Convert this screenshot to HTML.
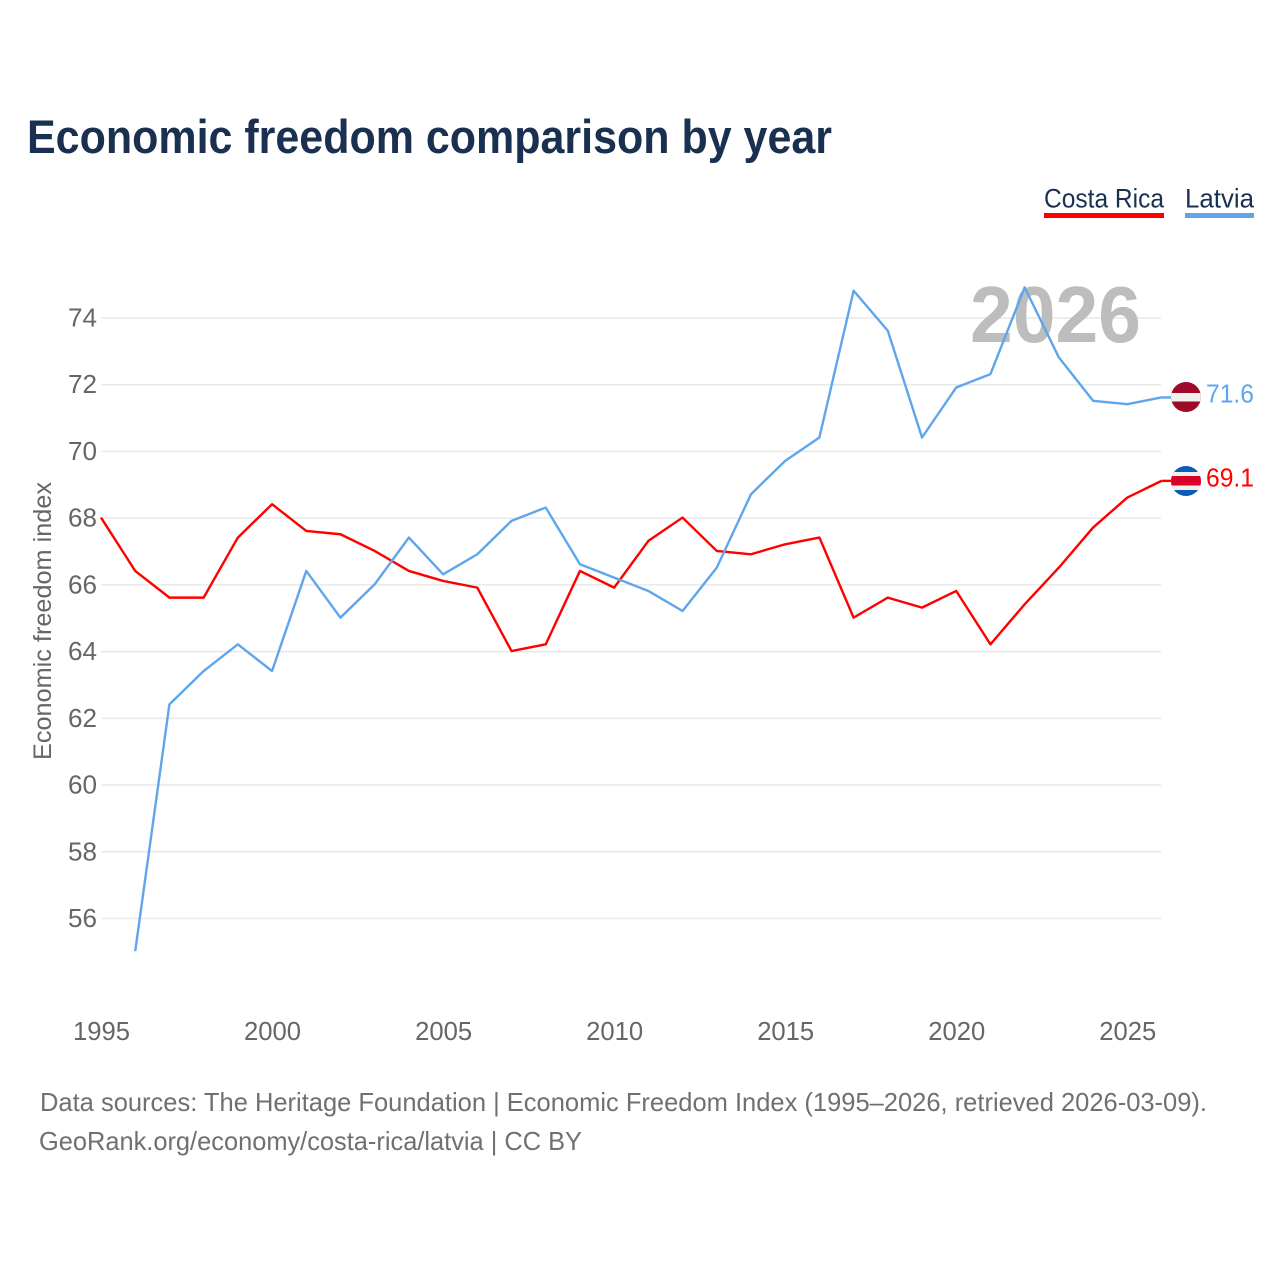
<!DOCTYPE html>
<html lang="en">
<head>
<meta charset="utf-8">
<title>Economic freedom comparison by year</title>
<style>
html,body{margin:0;padding:0;background:#fff;}
svg{display:block;font-family:"Liberation Sans",Arial,sans-serif;}
</style>
</head>
<body>
<svg id="chart" width="1280" height="1280" viewBox="0 0 1280 1280" xmlns="http://www.w3.org/2000/svg">
  <defs>
    <clipPath id="clip-lv"><circle cx="1186" cy="397" r="15"/></clipPath>
    <clipPath id="clip-cr"><circle cx="1186" cy="481" r="15"/></clipPath>
  </defs>
  <rect width="1280" height="1280" fill="#fff"/>
  <text x="27" y="153" font-size="47" font-weight="700" fill="#1a3050" textLength="805" lengthAdjust="spacingAndGlyphs">Economic freedom comparison by year</text>

  <g>
    <text x="1044" y="207.5" font-size="27" fill="#1a3050" textLength="120" lengthAdjust="spacingAndGlyphs">Costa Rica</text>
    <rect x="1044" y="213" width="120" height="5" fill="#ff0000"/>
  </g>
  <g>
    <text x="1185" y="207.5" font-size="27" fill="#1a3050" textLength="69" lengthAdjust="spacingAndGlyphs">Latvia</text>
    <rect x="1185" y="213" width="69" height="5" fill="#5fa5ec"/>
  </g>

  <text transform="translate(51,621) rotate(-90)" text-anchor="middle" font-size="25" fill="#666" textLength="278" lengthAdjust="spacingAndGlyphs">Economic freedom index</text>

  <g id="grid"></g>
  <g id="y-ticks"></g>
  <g id="x-ticks"></g>

  <text id="year-label" x="1141" y="342" text-anchor="end" font-size="80" font-weight="700" fill="#bdbdbd" textLength="171" lengthAdjust="spacingAndGlyphs"></text>

  <g id="series"></g>
  <g id="ends"></g>

  <text x="40" y="1111" font-size="26" fill="#707070" textLength="1167" lengthAdjust="spacingAndGlyphs">Data sources: The Heritage Foundation | Economic Freedom Index (1995–2026, retrieved 2026-03-09).</text>
  <text x="39" y="1150" font-size="26" fill="#707070" textLength="543" lengthAdjust="spacingAndGlyphs">GeoRank.org/economy/costa-rica/latvia | CC BY</text>
</svg>

<script>
const years = [1995,1996,1997,1998,1999,2000,2001,2002,2003,2004,2005,2006,2007,2008,2009,2010,2011,2012,2013,2014,2015,2016,2017,2018,2019,2020,2021,2022,2023,2024,2025,2026];
const costaRica = [68.0,66.4,65.6,65.6,67.4,68.4,67.6,67.5,67.0,66.4,66.1,65.9,64.0,64.2,66.4,65.9,67.3,68.0,67.0,66.9,67.2,67.4,65.0,65.6,65.3,65.8,64.2,65.4,66.5,67.7,68.6,69.1];
const latvia = [null,55.0,62.4,63.4,64.2,63.4,66.4,65.0,66.0,67.4,66.3,66.9,67.9,68.3,66.6,66.2,65.8,65.2,66.5,68.7,69.7,70.4,74.8,73.6,70.4,71.9,72.3,74.9,72.8,71.5,71.4,71.6];
const yTickValues = [56,58,60,62,64,66,68,70,72,74];
const xTickValues = [1995,2000,2005,2010,2015,2020,2025];
const currentYear = "2026";

const NS = "http://www.w3.org/2000/svg";
const xScale = y => 101 + (y - 1995) * (1161.5 - 101) / 31;
const yScale = v => 318 + (74 - v) * (918.5 - 318) / 18;
const lineY = v => yScale(v) - 0.6;

function make(tag, attrs, parent) {
  const el = document.createElementNS(NS, tag);
  for (const k in attrs) el.setAttribute(k, attrs[k]);
  parent.appendChild(el);
  return el;
}

const grid = document.getElementById('grid');
const yTicks = document.getElementById('y-ticks');
const xTicks = document.getElementById('x-ticks');
const series = document.getElementById('series');
const ends = document.getElementById('ends');

yTickValues.forEach(v => {
  const line = make('line', {x1: 101, x2: 1161, y1: yScale(v), y2: yScale(v), stroke: '#e9e9e9', 'stroke-width': 1.5}, grid);
  
  
  const t = make('text', {x: 97, y: yScale(v) + 8.5, 'text-anchor': 'end', 'font-size': 26, fill: '#666', textLength: 29, lengthAdjust: 'spacingAndGlyphs'}, yTicks);
  t.textContent = String(v);
  
  
});

xTickValues.forEach(y => {
  const t = make('text', {x: xScale(y) + 0.5, y: 1040, 'text-anchor': 'middle', 'font-size': 26, fill: '#666', textLength: 57, lengthAdjust: 'spacingAndGlyphs'}, xTicks);
  t.textContent = String(y);
  
  
});

document.getElementById('year-label').textContent = currentYear;

function linePoints(values) {
  const pts = [];
  values.forEach((v, i) => {
    if (v !== null) pts.push(xScale(years[i]).toFixed(2) + ',' + lineY(v).toFixed(2));
  });
  return pts.join(' ');
}

const lineCr = make('polyline', {points: linePoints(costaRica), fill: 'none', stroke: '#ff0000', 'stroke-width': 2.4, 'stroke-linejoin': 'round'}, series);



const lineLv = make('polyline', {points: linePoints(latvia), fill: 'none', stroke: '#5fa5ec', 'stroke-width': 2.4, 'stroke-linejoin': 'round'}, series);



const lastLv = latvia[latvia.length - 1];
const lastCr = costaRica[costaRica.length - 1];

const connLv = make('line', {x1: 1161.5, x2: 1174, y1: lineY(lastLv), y2: lineY(lastLv), stroke: '#5fa5ec', 'stroke-width': 2.4}, ends);



const connCr = make('line', {x1: 1161.5, x2: 1174, y1: lineY(lastCr), y2: lineY(lastCr), stroke: '#ff0000', 'stroke-width': 2.4}, ends);



const flagLv = make('g', {'clip-path': 'url(#clip-lv)'}, ends);


make('rect', {x: 1170, y: 381, width: 32, height: 32, fill: '#9e0a2a'}, flagLv);
make('rect', {x: 1170, y: 393, width: 32, height: 8.5, fill: '#f0f0f0'}, flagLv);

const flagCr = make('g', {'clip-path': 'url(#clip-cr)'}, ends);


make('rect', {x: 1170, y: 465, width: 32, height: 32, fill: '#0a5cb4'}, flagCr);
make('rect', {x: 1170, y: 472, width: 32, height: 18, fill: '#f0f0f0'}, flagCr);
make('rect', {x: 1170, y: 476, width: 32, height: 9.5, fill: '#d9002c'}, flagCr);

const valLv = make('text', {x: 1206, y: yScale(lastLv) + 4.5, 'font-size': 26, fill: '#5fa5ec', textLength: 48, lengthAdjust: 'spacingAndGlyphs'}, ends);
valLv.textContent = lastLv.toFixed(1);



const valCr = make('text', {x: 1206, y: yScale(lastCr) + 5, 'font-size': 26, fill: '#ff0000', textLength: 48, lengthAdjust: 'spacingAndGlyphs'}, ends);
valCr.textContent = lastCr.toFixed(1);


</script>
</body>
</html>
